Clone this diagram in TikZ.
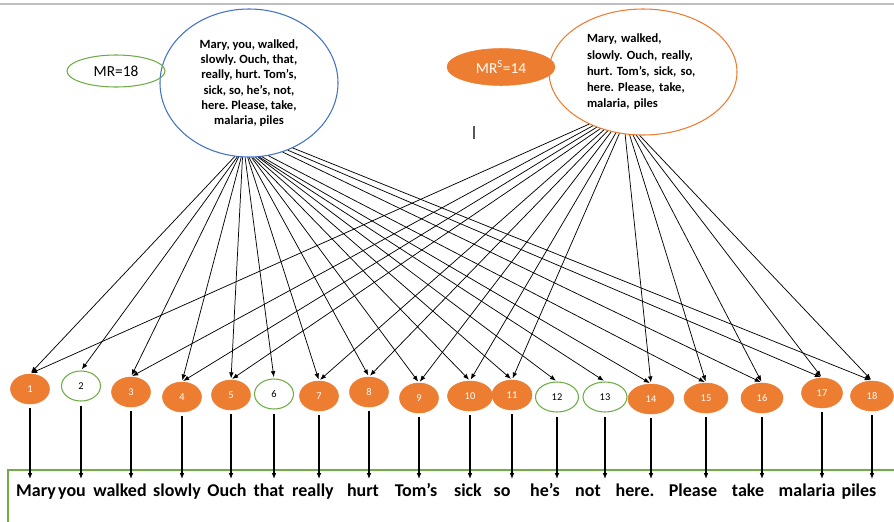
\documentclass[tikz,border=0pt]{standalone}
\usepackage{fontspec}
\setmainfont{Carlito}
\usepackage{xcolor}
\usepackage{tikz}
\usetikzlibrary{positioning, arrows.meta, calc, shapes.geometric}
\definecolor{wordorange}{HTML}{ED7D31}
\definecolor{wordgreen}{HTML}{70AD47}
\definecolor{wordblue}{HTML}{4472C4}
\definecolor{rulegray}{HTML}{BFBFBF}
\frenchspacing

\tikzset{
  tally/.style={ellipse, inner sep=0pt, minimum height=22.5pt, font=\fontsize{7.8}{9}\selectfont},
  kept/.style={tally, fill=wordorange, draw=wordorange, text=white},
  dropped/.style={tally, fill=white, draw=wordgreen, line width=0.8pt, text=black},
  link/.style={-{Latex[length=4.5pt,width=3.5pt]}, line width=0.55pt, shorten >=1pt},
  drop/.style={-{Latex[length=4.5pt,width=3.5pt]}, line width=1.2pt, shorten <=3pt},
  token/.style={anchor=base, font=\fontsize{13.5}{15}\selectfont\bfseries,
                text height=10pt, text depth=3pt, inner sep=2.5pt}
}

\begin{document}
\begin{tikzpicture}[x=0.75pt, y=-0.75pt]
    \useasboundingbox (0,0) rectangle (894,522);
    \draw[rulegray, line width=1.2pt] (0,4) -- (894,4);
    \draw[wordgreen, line width=0.8pt] (8,522) -- (8,470) -- (894,470);

    \node[ellipse, draw=wordblue, line width=0.8pt, inner sep=0pt,
          minimum width=133.5pt, minimum height=111pt, align=center,
          font=\fontsize{9.4}{11.5}\selectfont\bfseries] (full) at (249,83) {%
      Mary, you, walked,\\slowly. Ouch, that,\\really, hurt. Tom’s,\\
      sick, so, he’s, not,\\here. Please, take,\\malaria, piles};
    \node[ellipse, draw=wordorange, line width=0.8pt, inner sep=0pt,
          minimum width=141pt, minimum height=94.5pt, text width=84pt, align=left,
          font=\fontsize{9.4}{12.2}\selectfont\bfseries] (sig) at (643,72) {%
      Mary, walked,\\slowly. Ouch, really,\\hurt. Tom’s, sick, so,\\
      here. Please, take,\\malaria, piles};
    \node[ellipse, draw=wordgreen, line width=0.8pt, minimum width=73.5pt,
          minimum height=24pt, font=\fontsize{11.5}{13}\selectfont] (mr) at (116,71) {MR=18};
    \node[ellipse, fill=wordorange, draw=wordorange, text=white, minimum width=81pt,
          minimum height=27.75pt, font=\fontsize{11.5}{13}\selectfont] (mrs) at (501,67) {MR\textsuperscript{S}=14};
    \draw[black!65, line width=1.1pt] (474,126) -- (474,139);

    \foreach \i/\x/\y/\k/\w in {1/30/389/kept/39, 2/81/386/dropped/39, 3/131/392/kept/39,
        4/182/397/kept/39, 5/231/395/kept/39, 6/274/394/dropped/39, 7/319/396/kept/39,
        8/369/392/kept/39, 9/419/398/kept/39, 10/470/396/kept/45, 11/512/395/kept/40,
        12/557/397/dropped/43, 13/605/397/dropped/44, 14/651/399/kept/46, 15/706/398/kept/44,
        16/762/398/kept/42, 17/822/393/kept/41, 18/872/396/kept/43}
      \node[\k, minimum width=\w*0.75pt] (n\i) at (\x,\y) {\i};

    \foreach \i/\x/\t in {1/36/Mary, 2/72/you, 3/120/walked, 4/177/slowly, 5/227/Ouch,
        6/269/that, 7/313/really, 8/363/hurt, 9/416/Tom’s, 10/468/sick, 11/502/so,
        12/545/he’s, 13/588/not, 14/635/here., 15/693/Please, 16/748/take,
        17/807/malaria, 18/859/piles}
      \node[token] (w\i) at (\x,496) {\t};

    \foreach \i in {1,...,18}
      \draw[drop] (n\i) -- (n\i |- w\i.north);

    \foreach \i/\a in {1/-101, 2/-99, 3/-98, 4/-96, 5/-95, 6/-93, 7/-91, 8/-90, 9/-88,
        10/-87, 11/-85, 12/-83, 13/-82, 14/-80, 15/-75, 16/-64, 17/-60, 18/-56}
      \draw[link] (full.\a) -- (n\i.north);

    \foreach \i/\a in {1/-136, 3/-133, 4/-130, 5/-127, 7/-124, 8/-121, 9/-118,
        10/-114, 11/-111, 14/-106, 15/-102, 16/-99, 17/-96, 18/-93}
      \draw[link] (sig.\a) -- (n\i.north);
\end{tikzpicture}
\end{document}
